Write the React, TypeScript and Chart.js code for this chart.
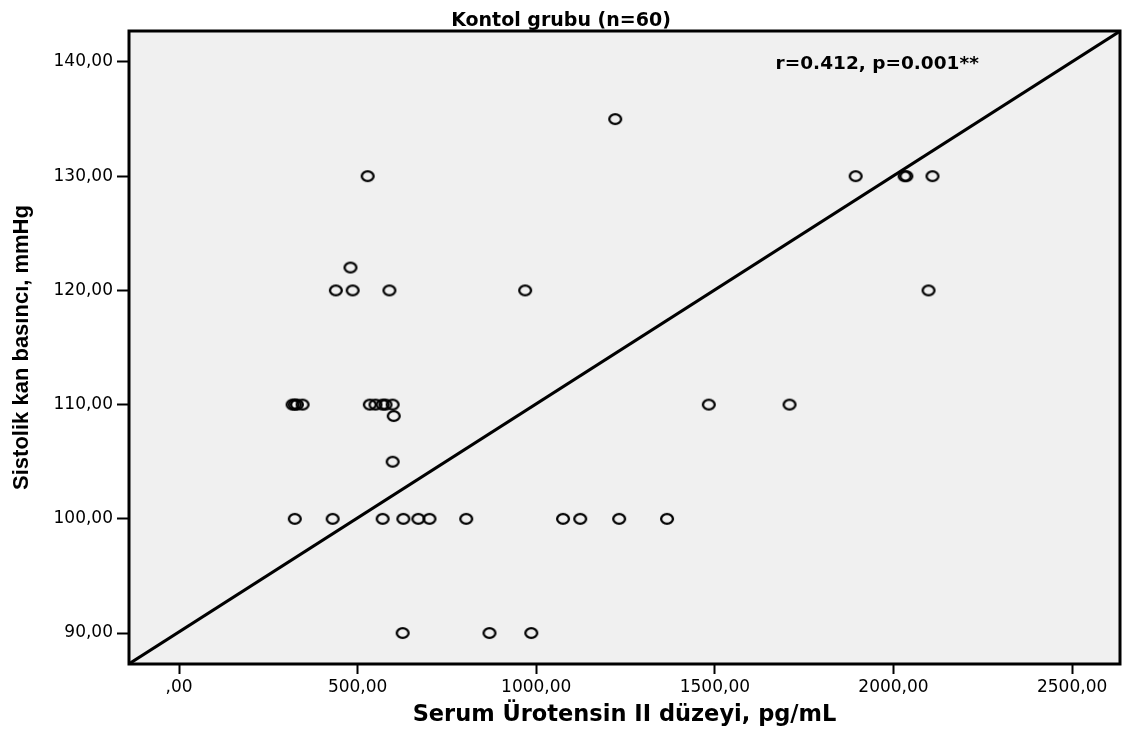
import React, { useEffect, useRef } from 'react';
import { Chart, registerables } from 'chart.js';

Chart.register(...registerables);

const chartTitle = 'Kontol grubu (n=60)';
const xAxisTitle = 'Serum Ürotensin II düzeyi, pg/mL';
const yAxisTitle = 'Sistolik kan basıncı, mmHg';
const annotationText = 'r=0.412, p=0.001**';

// Serum Urotensin II (pg/mL) and systolic blood pressure (mmHg)
const uroX = [
  1221,
  528, 1894, 2031, 2036, 2109,
  480,
  439, 486, 589, 969, 2098,
  318, 324, 330, 346, 534, 550, 570, 578, 598, 1483, 1709,
  601,
  598,
  324, 430, 570, 628, 670, 701, 804, 1075, 1123, 1232, 1366,
  626, 869, 986,
];
const sbpY = [
  135,
  130, 130, 130, 130, 130,
  122,
  120, 120, 120, 120, 120,
  110, 110, 110, 110, 110, 110, 110, 110, 110, 110, 110,
  109,
  105,
  100, 100, 100, 100, 100, 100, 100, 100, 100, 100, 100,
  90, 90, 90,
];

// fitted line end points
const fitX = [-140, 2634];
const fitY = [87.3, 142.7];

const xTicks = [0, 500, 1000, 1500, 2000, 2500];
const xTickLabels = [',00', '500,00', '1000,00', '1500,00', '2000,00', '2500,00'];
const yTicks = [90, 100, 110, 120, 130, 140];
const yTickLabels = ['90,00', '100,00', '110,00', '120,00', '130,00', '140,00'];

const xRange = [-140, 2634];
const yRange = [87.29, 142.71];

const annotationAnchor = { x: 1670, y: 139.4 };

function makeRing(): HTMLCanvasElement {
  const c = document.createElement('canvas');
  c.width = 18;
  c.height = 16;
  const ctx = c.getContext('2d')!;
  ctx.strokeStyle = '#000';
  ctx.lineWidth = 2.3;
  ctx.beginPath();
  ctx.ellipse(9, 8, 5.9, 4.9, 0, 0, Math.PI * 2);
  ctx.stroke();
  return c;
}

const framePlugin = {
  id: 'framePlugin',
  beforeDraw(chart: any) {
    const { ctx, chartArea } = chart;
    ctx.save();
    ctx.fillStyle = '#ffffff';
    ctx.fillRect(0, 0, chart.width, chart.height);
    ctx.fillStyle = '#f0f0f0';
    ctx.fillRect(chartArea.left, chartArea.top, chartArea.right - chartArea.left, chartArea.bottom - chartArea.top);
    ctx.restore();
  },
  afterDraw(chart: any) {
    const { ctx, chartArea, scales } = chart;
    ctx.save();
    ctx.strokeStyle = '#000';
    ctx.lineWidth = 3;
    ctx.strokeRect(chartArea.left, chartArea.top, chartArea.right - chartArea.left, chartArea.bottom - chartArea.top);
    ctx.fillStyle = '#000';
    ctx.font = 'bold 18.5px "DejaVu Sans"';
    ctx.textAlign = 'left';
    ctx.textBaseline = 'alphabetic';
    ctx.fillText(
      annotationText,
      scales.x.getPixelForValue(annotationAnchor.x),
      scales.y.getPixelForValue(annotationAnchor.y)
    );
    ctx.restore();
  },
};

export default function App() {
  const ref = useRef<HTMLCanvasElement | null>(null);

  useEffect(() => {
    document.body.style.margin = '0';
    if (!ref.current) return;
    const ring = makeRing();
    const points = uroX.map((x, i) => ({ x, y: sbpY[i] }));
    const fit = fitX.map((x, i) => ({ x, y: fitY[i] }));
    const chart = new Chart(ref.current, {
      type: 'scatter',
      data: {
        datasets: [
          {
            data: fit,
            showLine: true,
            borderColor: '#000',
            borderWidth: 3,
            pointRadius: 0,
            order: 2,
          } as any,
          {
            data: points,
            pointStyle: ring as any,
            pointRadius: 6,
            borderColor: '#000',
            backgroundColor: 'transparent',
            order: 1,
          },
        ],
      },
      options: {
        responsive: false,
        animation: false,
        events: [],
        layout: { padding: { left: 0, right: 5, top: 0, bottom: 0 } },
        plugins: {
          legend: { display: false },
          tooltip: { enabled: false },
          title: {
            display: true,
            text: chartTitle,
            color: '#000',
            font: { family: '"DejaVu Sans"', size: 19, weight: 'bold', lineHeight: 1 },
            padding: { top: 11.5, bottom: 0.5 },
          },
        },
        scales: {
          x: {
            type: 'linear',
            min: xRange[0],
            max: xRange[1],
            afterBuildTicks: (s: any) => {
              s.ticks = xTicks.map((v) => ({ value: v }));
            },
            afterFit: (s: any) => {
              s.height = 80;
            },
            ticks: {
              autoSkip: false,
              maxRotation: 0,
              color: '#000',
              padding: 3,
              font: { family: '"DejaVu Sans"', size: 17 },
              callback: (_v: any, i: number) => xTickLabels[i],
            },
            grid: {
              drawOnChartArea: false,
              drawTicks: true,
              tickLength: 10,
              tickColor: '#000',
              tickWidth: 2,
            },
            border: { display: false },
            title: {
              display: true,
              text: xAxisTitle,
              color: '#000',
              font: { family: '"DejaVu Sans"', size: 22.5, weight: 'bold', lineHeight: 1 },
              padding: { top: 0, bottom: 18 },
            },
          },
          y: {
            type: 'linear',
            min: yRange[0],
            max: yRange[1],
            afterBuildTicks: (s: any) => {
              s.ticks = yTicks.map((v) => ({ value: v }));
            },
            afterFit: (s: any) => {
              s.width = 129;
            },
            ticks: {
              autoSkip: false,
              color: '#000',
              padding: 4,
              font: { family: '"DejaVu Sans"', size: 17 },
              callback: (_v: any, i: number) => yTickLabels[i],
            },
            grid: {
              drawOnChartArea: false,
              drawTicks: true,
              tickLength: 12,
              tickColor: '#000',
              tickWidth: 2,
            },
            border: { display: false },
            title: {
              display: true,
              text: yAxisTitle,
              color: '#000',
              font: { family: '"Liberation Sans", Arial, sans-serif', size: 22, weight: 'bold', lineHeight: 1 },
              padding: { top: 11, bottom: 0 },
            },
          },
        },
      },
      plugins: [framePlugin],
    });
    return () => chart.destroy();
  }, []);

  return (
    <div style={{ width: 1127, height: 744 }}>
      <canvas ref={ref} width={1127} height={744} style={{ display: 'block' }} />
    </div>
  );
}
